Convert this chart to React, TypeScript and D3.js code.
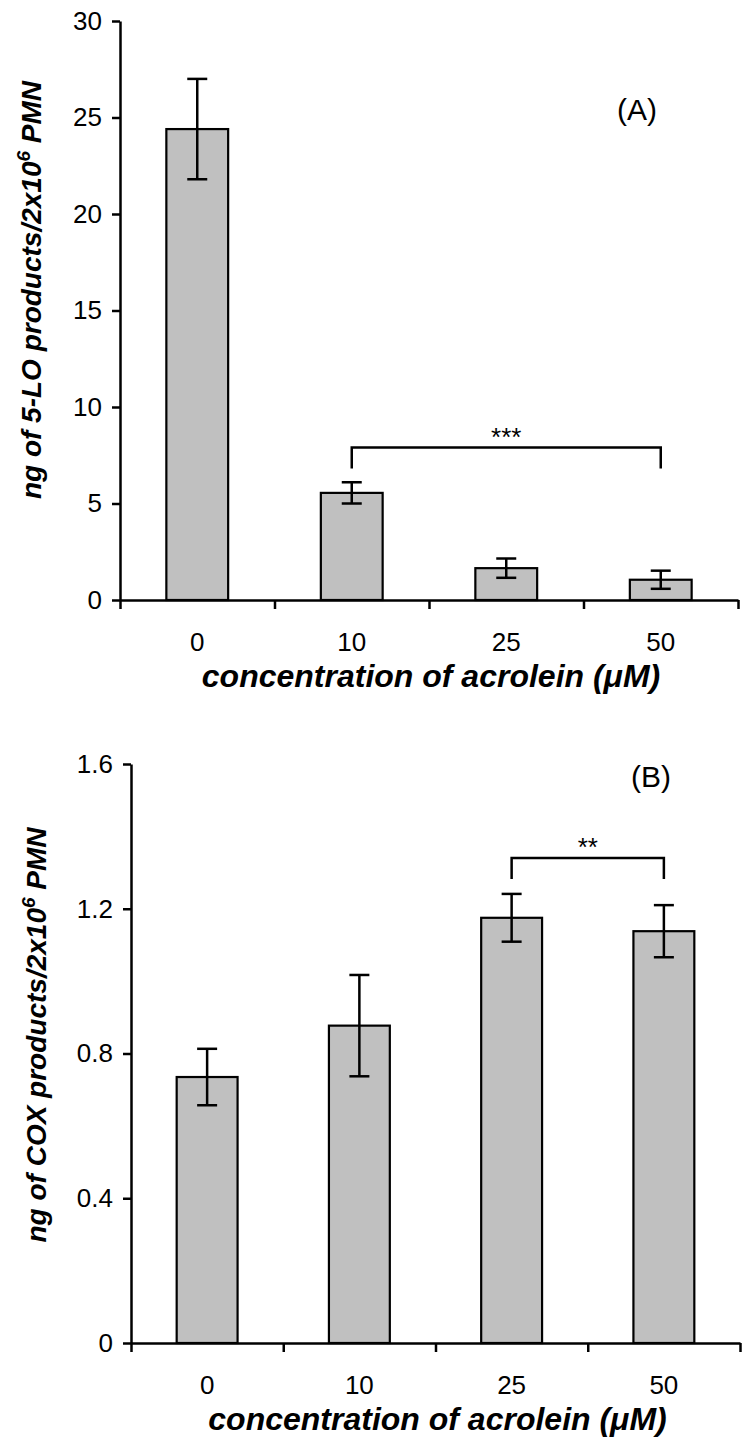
import React, { useRef, useEffect } from 'react';
import * as d3 from 'd3';

const categories = ['0', '10', '25', '50'];

const loMeans = [24.4, 5.55, 1.65, 1.05];
const loErrors = [2.6, 0.55, 0.5, 0.47];
const loTicks = [0, 5, 10, 15, 20, 25, 30];

const coxMeans = [0.735, 0.877, 1.175, 1.138];
const coxErrors = [0.078, 0.14, 0.066, 0.072];
const coxTicks = [0, 0.4, 0.8, 1.2, 1.6];

const xTitle = 'concentration of acrolein (\u03bcM)';

const FONT = 'Liberation Sans, Arial, sans-serif';

function drawPanel(svg, opts) {
    const { left, right, top, bottom, means, errors, ticks, yMax, fmt, tag, tagX, tagY,
        labelStart, labelX, labelY, bracket, stars } = opts;

    const x = d3.scaleBand().domain(categories).range([left, right]).paddingInner(0.6).paddingOuter(0.3);
    const edges = d3.scaleLinear().domain([0, categories.length]).range([left, right]);
    const y = d3.scaleLinear().domain([0, yMax]).range([bottom, top]);

    const g = svg.append('g');

    // bars
    g.selectAll('.bar')
        .data(means)
        .enter().append('rect')
        .attr('x', (d, i) => x(categories[i]))
        .attr('y', d => y(d))
        .attr('width', x.bandwidth())
        .attr('height', d => y(0) - y(d))
        .attr('fill', '#c0c0c0')
        .attr('stroke', '#000')
        .attr('stroke-width', 2.2);

    // error bars
    const cx = (i) => x(categories[i]) + x.bandwidth() / 2;
    const eb = g.selectAll('.err').data(means).enter().append('g').attr('stroke', '#000').attr('stroke-width', 2.5);
    eb.append('line')
        .attr('x1', (d, i) => cx(i)).attr('x2', (d, i) => cx(i))
        .attr('y1', (d, i) => y(d + errors[i])).attr('y2', (d, i) => y(d - errors[i]));
    eb.append('line')
        .attr('x1', (d, i) => cx(i) - 10).attr('x2', (d, i) => cx(i) + 10)
        .attr('y1', (d, i) => y(d + errors[i])).attr('y2', (d, i) => y(d + errors[i]));
    eb.append('line')
        .attr('x1', (d, i) => cx(i) - 10).attr('x2', (d, i) => cx(i) + 10)
        .attr('y1', (d, i) => y(d - errors[i])).attr('y2', (d, i) => y(d - errors[i]));

    // y axis
    const ya = g.append('g')
        .attr('transform', 'translate(' + left + ',0)')
        .call(d3.axisLeft(y).tickValues(ticks).tickFormat(fmt).tickSize(8).tickSizeOuter(0).tickPadding(10));
    ya.select('.domain').attr('stroke-width', 2.5);
    ya.selectAll('.tick line').attr('stroke-width', 2.5);
    ya.selectAll('.tick text')
        .attr('font-family', FONT)
        .attr('font-size', 26)
        .attr('fill', '#000');

    // x axis with ticks at band edges
    const xa = g.append('g')
        .attr('transform', 'translate(0,' + bottom + ')')
        .call(d3.axisBottom(edges).tickValues(d3.range(categories.length + 1)).tickFormat(() => '').tickSize(9).tickSizeOuter(0));
    xa.select('.domain').attr('stroke-width', 2.5);
    xa.selectAll('.tick line').attr('stroke-width', 2.5);

    g.selectAll('.cat')
        .data(categories)
        .enter().append('text')
        .attr('x', d => x(d) + x.bandwidth() / 2)
        .attr('y', bottom + 51)
        .attr('text-anchor', 'middle')
        .attr('font-family', FONT)
        .attr('font-size', 26)
        .text(d => d);

    g.append('text')
        .attr('x', (left + right) / 2 + 2)
        .attr('y', bottom + 87)
        .attr('text-anchor', 'middle')
        .attr('font-family', FONT)
        .attr('font-size', 32)
        .attr('font-weight', 'bold')
        .attr('font-style', 'italic')
        .text(xTitle);

    // y label
    const yl = g.append('text')
        .attr('transform', 'translate(' + labelX + ',' + labelY + ') rotate(-90)')
        .attr('text-anchor', 'middle')
        .attr('font-family', FONT)
        .attr('font-size', 28)
        .attr('font-weight', 'bold')
        .attr('font-style', 'italic');
    yl.append('tspan').text(labelStart);
    yl.append('tspan').attr('font-size', 19).attr('dy', -11).text('6');
    yl.append('tspan').attr('dy', 11).text(' PMN');

    // panel tag
    g.append('text')
        .attr('x', tagX)
        .attr('y', tagY)
        .attr('text-anchor', 'middle')
        .attr('font-family', FONT)
        .attr('font-size', 30)
        .text(tag);

    // significance bracket
    const b0 = cx(bracket[0]);
    const b1 = cx(bracket[1]);
    const by = y(bracket[2]);
    g.append('path')
        .attr('d', 'M' + b0 + ',' + (by + 21) + 'V' + by + 'H' + b1 + 'V' + (by + 21))
        .attr('fill', 'none')
        .attr('stroke', '#000')
        .attr('stroke-width', 2.5);
    g.append('text')
        .attr('x', (b0 + b1) / 2)
        .attr('y', by - 2)
        .attr('text-anchor', 'middle')
        .attr('font-family', FONT)
        .attr('font-size', 26)
        .text(stars);
}

export default function App() {
    const ref = useRef(null);

    useEffect(() => {
        const svg = d3.select(ref.current);
        svg.selectAll('*').remove();

        drawPanel(svg, {
            left: 120, right: 738, top: 21, bottom: 600,
            means: loMeans, errors: loErrors, ticks: loTicks, yMax: 30,
            fmt: d3.format('d'), tag: '(A)', tagX: 637, tagY: 120,
            labelStart: 'ng of 5-LO products/2x10', labelX: 41, labelY: 290,
            bracket: [1, 3, 7.9], stars: '***'
        });

        drawPanel(svg, {
            left: 131, right: 740, top: 764, bottom: 1343,
            means: coxMeans, errors: coxErrors, ticks: coxTicks, yMax: 1.6,
            fmt: d => (d === 0 ? '0' : d3.format('.1f')(d)), tag: '(B)', tagX: 651, tagY: 787,
            labelStart: 'ng of COX products/2x10', labelX: 46, labelY: 1035,
            bracket: [2, 3, 1.34], stars: '**'
        });
    }, []);

    return (
        <svg ref={ref} width={749} height={1447}
            style={{ position: 'absolute', left: 0, top: 0, background: '#fff' }} />
    );
}
